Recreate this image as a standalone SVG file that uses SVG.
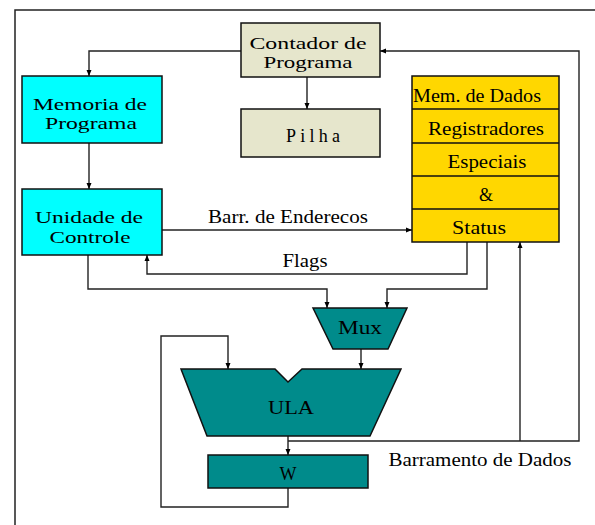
<svg xmlns="http://www.w3.org/2000/svg" width="595" height="525" viewBox="0 0 595 525">
<style>
.t{font-family:"Liberation Serif","Times New Roman",serif;font-size:18px;fill:#000;text-anchor:middle}
.s{font-size:17px}
.box{stroke:#111;stroke-width:1.5}
.beige{fill:#E6E6CC}
.cyan{fill:#00FFFF}
.gold{fill:#FFD700}
.teal{fill:#008B8B}
.c{fill:none;stroke:#222;stroke-width:1.4}
</style>
<defs>
<marker id="a" markerUnits="userSpaceOnUse" markerWidth="7" markerHeight="6" refX="6" refY="3" orient="auto">
<path d="M0,0.5 L6,3 L0,5.5 z" fill="#000"/>
</marker>
</defs>
<rect width="595" height="525" fill="#fff"/>
<path d="M15,525 V10 H595" fill="none" stroke="#222" stroke-width="1.5"/>
<g id="connectors">
<path class="c" d="M241,51 H89 V76" marker-end="url(#a)"/>
<path class="c" d="M89,143 V189" marker-end="url(#a)"/>
<path class="c" d="M307,77 V109" marker-start="url(#a)" marker-end="url(#a)"/>
<path class="c" d="M162,230 H412" marker-end="url(#a)"/>
<path class="c" d="M467,242 V274 H147 V255" marker-end="url(#a)"/>
<path class="c" d="M88,255 V289 H327 V308" marker-end="url(#a)"/>
<path class="c" d="M487,242 V289 H387 V308" marker-end="url(#a)"/>
<path class="c" d="M361,349 V369" marker-end="url(#a)"/>
<path class="c" d="M288,488 V507 H161 V336 H228 V369" marker-end="url(#a)"/>
<path class="c" d="M288,436 V455" marker-end="url(#a)"/>
<path class="c" d="M288,441 H579 V51 H380" marker-end="url(#a)"/>
<path class="c" d="M520,441 V242" marker-end="url(#a)"/>
<text class="t" x="288" y="223" textLength="160" lengthAdjust="spacingAndGlyphs">Barr. de Enderecos</text>
<text class="t" x="305" y="267" textLength="45" lengthAdjust="spacingAndGlyphs">Flags</text>
<text class="t" x="480" y="466" textLength="183" lengthAdjust="spacingAndGlyphs">Barramento de Dados</text>
</g>
<g id="contador">
<rect class="box beige" x="241" y="23" width="139" height="54"/>
<text class="t s" x="308" y="49" textLength="117" lengthAdjust="spacingAndGlyphs">Contador de</text>
<text class="t s" x="308" y="68" textLength="89" lengthAdjust="spacingAndGlyphs">Programa</text>
</g>
<g id="pilha">
<rect class="box beige" x="241" y="109" width="139" height="48"/>
<text class="t" x="313" y="142" font-size="19" textLength="54" lengthAdjust="spacing">Pilha</text>
</g>
<g id="memoria">
<rect class="box cyan" x="22" y="76" width="140" height="67"/>
<text class="t s" x="90" y="110" textLength="114" lengthAdjust="spacingAndGlyphs">Memoria de</text>
<text class="t s" x="91" y="129" textLength="92" lengthAdjust="spacingAndGlyphs">Programa</text>
</g>
<g id="unidade">
<rect class="box cyan" x="22" y="189" width="140" height="66"/>
<text class="t s" x="89" y="223" textLength="108" lengthAdjust="spacingAndGlyphs">Unidade de</text>
<text class="t s" x="90" y="243" textLength="81" lengthAdjust="spacingAndGlyphs">Controle</text>
</g>
<g id="memdados">
<rect class="box gold" x="412" y="76" width="147" height="166"/>
<path d="M412,109 H559 M412,143 H559 M412,176 H559 M412,209 H559" stroke="#111" stroke-width="1.5"/>
<text class="t" x="477" y="102" textLength="128" lengthAdjust="spacingAndGlyphs">Mem. de Dados</text>
<text class="t" x="486" y="135" textLength="116" lengthAdjust="spacingAndGlyphs">Registradores</text>
<text class="t" x="487" y="168" textLength="79" lengthAdjust="spacingAndGlyphs">Especiais</text>
<text class="t" x="486" y="201">&amp;</text>
<text class="t" x="479" y="234" textLength="54" lengthAdjust="spacingAndGlyphs">Status</text>
</g>
<g id="mux">
<path class="box teal" d="M313,308 H407 L388,349 H333 z"/>
<text class="t" x="360" y="334" textLength="44" lengthAdjust="spacingAndGlyphs">Mux</text>
</g>
<g id="ula">
<path class="box teal" d="M181,369 H275 L288,382 L302,369 H401 L370,436 H207 z"/>
<text class="t" x="291" y="414" textLength="46" lengthAdjust="spacingAndGlyphs">ULA</text>
</g>
<g id="w">
<rect class="box teal" x="208" y="455" width="160" height="33"/>
<text class="t" x="288" y="480">W</text>
</g>
</svg>
